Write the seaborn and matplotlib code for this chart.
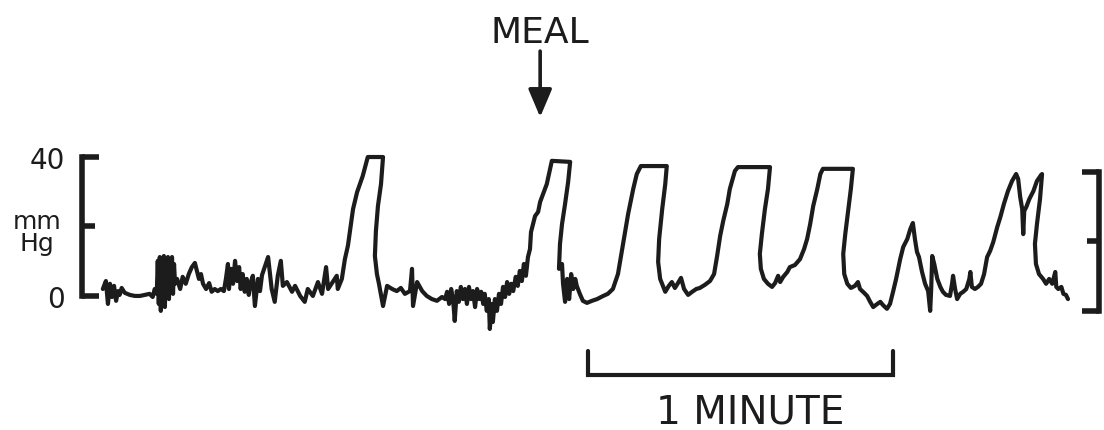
import matplotlib
matplotlib.use("Agg")
import matplotlib.pyplot as plt
import seaborn as sns

# ---------------- data ----------------
# time in seconds from start of record, pressure in mmHg
TIME_S = [
    0.0, 0.6, 1.0, 1.4, 1.8, 2.2, 2.6, 3.0, 3.3, 3.7, 4.3, 5.3, 6.3, 7.3, 8.3, 9.2, 9.8, 10.2,
    10.6, 10.8, 11.0, 11.2, 11.4, 11.6, 11.8, 12.0, 12.2, 12.4, 12.6, 12.8, 13.0, 13.2, 13.4, 13.6, 13.8, 14.0, 14.2,
    14.6, 15.2, 15.7, 16.3, 16.9, 17.5, 18.1, 18.5, 18.9, 19.3, 19.7, 20.3, 20.9, 21.4, 22.0, 22.6, 23.2, 23.8,
    24.2, 24.6, 24.8, 25.2, 25.6, 26.0, 26.4, 26.8, 27.1, 27.5, 27.9, 28.3, 28.7,
    29.1, 29.5, 29.9, 30.5, 30.9, 31.3, 31.9, 32.5, 33.2, 33.8, 34.4, 35.0, 35.4, 36.2, 37.2, 37.8, 38.8,
    39.7, 40.3, 41.3, 42.3, 43.1, 43.9, 44.3, 45.2, 46.0, 46.2, 47.0, 47.6,
    48.2, 49.2, 50.0, 51.1, 52.1, 55.1,
    54.7, 54.1, 53.7, 53.5, 53.9, 54.3, 55.1, 55.9, 56.9, 57.8, 58.6, 59.4, 60.4, 60.8, 61.0, 61.8,
    62.8, 63.7, 64.7, 65.7, 66.7, 67.3,
    67.7, 68.1, 68.5, 68.9, 69.2, 69.6, 70.0, 70.4, 70.8, 71.2, 71.6, 72.0, 72.4, 72.8, 73.2, 73.6,
    74.0, 74.4, 74.8, 75.1, 75.5, 75.9, 76.1, 76.5, 76.7, 77.1, 77.5, 77.9, 78.3, 78.7, 79.1, 79.5,
    79.9, 80.3, 80.7, 81.2, 81.6, 82.0, 82.4, 82.8, 83.2, 83.6, 84.0, 84.2, 85.0, 85.6, 86.0, 86.8,
    87.3, 88.3, 91.9,
    91.5, 90.9, 90.3, 89.9, 89.7, 90.3, 90.5, 90.9, 91.3, 91.7, 92.1, 92.5, 92.9, 93.2, 93.8, 94.4,
    95.2, 96.2, 97.2, 98.4, 99.3, 100.3, 101.3, 102.3, 103.3, 104.3, 105.0, 105.8, 110.9,
    110.6, 110.0, 109.4, 109.2, 109.6, 110.6, 111.3, 111.9, 112.5, 113.1, 113.7, 114.3, 115.1, 115.9,
    116.7, 117.4, 118.4, 119.4, 120.2, 120.8, 121.4, 122.0, 122.8, 123.3, 124.3, 124.9, 131.2,
    130.8, 130.2, 129.6, 129.2, 129.4, 130.0, 130.8, 131.6, 132.2, 132.8, 133.2, 133.8, 134.6, 135.1,
    136.1, 137.1, 137.9, 138.5, 139.1, 139.7, 140.5, 141.1, 141.6, 147.5,
    147.1, 146.6, 146.0, 145.6, 145.8, 146.4, 147.1, 147.9, 148.5, 148.9, 149.7, 150.3, 150.9, 151.5,
    152.3, 152.9, 153.4, 154.2, 154.8, 155.4, 156.0, 156.8, 157.4, 158.2, 158.8, 159.3, 159.7, 160.1,
    160.5, 161.1, 161.7, 162.3, 162.7, 162.9, 163.1, 163.5, 164.1, 164.7, 165.2, 165.8, 166.6, 167.0,
    167.2, 167.6, 168.0, 168.6, 169.2, 169.8, 170.4, 170.6, 170.9, 171.5, 172.1, 172.7, 173.3, 173.9,
    174.5, 175.1, 175.9, 176.5, 177.2, 178.0, 178.8, 179.6, 180.0, 180.4, 180.8, 181.0, 181.2, 181.6,
    182.2, 183.0, 183.7, 184.5, 184.7, 184.3, 183.7, 183.3, 183.5, 184.1, 184.9, 185.5, 186.1, 186.7,
    187.3, 187.5, 187.9, 188.5, 188.9, 189.4, 189.8,
]
PRESSURE_MMHG = [
    2.0, 4.3, -2.3, 3.5, -0.3, 2.9, -1.4, 1.4, 0.3, 2.3, 0.9, 0.3, 0.0, 0.0, 0.3, 0.6, -0.3, 2.0,
    0.6, 10.1, -2.3, 11.2, -4.3, 9.2, -0.9, 11.5, -3.2, 10.1, 0.3, 11.2, -0.9, 10.1, 2.0, 11.2, 0.6, 9.2, 3.5,
    4.9, 2.0, 5.5, 3.5, 6.3, 8.3, 9.5, 7.2, 4.9, 6.3, 3.5, 2.0, 3.7, 1.2, 2.0, 1.4, 2.0, 1.4,
    4.9, 9.2, 2.0, 7.8, 3.5, 10.1, 4.3, 8.3, 2.0, 6.3, 1.2, 4.9, 0.3,
    4.0, 5.8, -2.9, 4.9, 1.4, 6.0, 8.6, 11.2, 2.0, -1.7, 5.8, 10.1, 2.9, 4.0, 1.2, 2.9, 0.0,
    -1.7, 2.0, 0.0, 4.0, 0.6, 8.3, 2.0, 4.0, 5.8, 2.0, 4.9, 10.6,
    14.5, 25.0, 29.9, 34.5, 40.0, 40.0,
    32.2, 25.9, 18.7, 11.5, 6.3, 3.5, -2.9, 2.9, 2.0, 1.4, 2.3, 0.6, 1.4, 7.8, -2.9, 4.0,
    1.4, 0.0, -0.9, -1.4, -0.3, -0.9,
    1.2, -2.3, 2.0, -1.4, -7.2, 1.4, -1.7, 2.6, -0.9, 2.0, -2.3, 2.6, -0.9, 1.4, -3.2, 2.0,
    -0.9, 1.2, -2.3, 0.6, -4.3, -0.9, -9.5, -2.3, -7.5, -0.9, -4.3, 0.6, -2.3, 2.6, -0.3, 4.0,
    0.6, 3.5, 1.4, 5.5, 2.9, 7.2, 4.3, 9.2, 5.8, 11.2, 13.5, 18.4, 23.0, 24.2, 27.1, 30.2,
    32.2, 38.9, 38.6,
    32.8, 26.5, 20.7, 15.0, 7.8, 9.2, 3.5, -1.7, 4.9, -0.9, 6.3, 2.0, 4.9, 2.9, 0.6, -1.4,
    -2.0, -1.4, -0.9, 0.0, 0.6, 2.0, 6.3, 15.0, 23.6, 30.8, 35.1, 37.4, 37.4,
    32.2, 25.0, 16.4, 9.8, 4.9, 1.2, 2.9, 4.0, 2.3, 3.7, 5.2, 2.0, 0.3, 1.2,
    2.0, 2.3, 3.2, 4.3, 6.3, 11.5, 17.3, 21.6, 26.5, 30.8, 36.0, 37.1, 37.1,
    30.8, 25.0, 17.8, 12.1, 7.8, 4.9, 3.5, 2.6, 3.7, 5.8, 4.0, 5.5, 6.9, 8.3,
    8.9, 10.6, 13.5, 16.4, 20.7, 25.9, 30.8, 35.1, 36.6, 36.6,
    30.8, 25.0, 17.8, 12.1, 6.3, 3.5, 2.3, 2.9, 4.0, 2.0, 0.9, 0.0, -1.7, -3.2,
    -2.3, -1.7, -2.6, -3.7, -2.3, 1.2, 4.9, 10.6, 14.1, 16.4, 19.3, 21.0, 16.4, 12.7,
    11.2, 6.9, 3.5, 1.4, -4.3, 2.0, 11.5, 9.2, 4.9, 2.6, 1.2, 0.3, 0.0, 3.5,
    5.8, 2.0, -0.9, 0.6, 1.2, 2.0, 4.9, 6.9, 2.6, 2.0, 2.6, 3.5, 6.3, 11.2,
    13.0, 15.5, 19.9, 22.7, 26.5, 30.2, 33.1, 35.1, 33.7, 28.5, 25.0, 17.8, 24.5, 25.6,
    27.9, 30.2, 33.1, 34.8, 35.1, 27.9, 20.7, 15.0, 9.2, 6.3, 4.9, 3.5, 4.9, 3.5,
    6.9, 2.6, 2.0, 2.6, 0.6, 0.3, -0.9,
]

Y_TICKS = [0, 40]
Y_TICK_LABELS = ["0", "40"]
Y_MINOR_TICK = [20]
MEAL_TIME_S = 86.0
SCALE_BAR_START_S = 95.4
SCALE_BAR_LENGTH_S = 60.0
RIGHT_SCALE_OFFSET = 4.3   # right-hand calibration bracket sits slightly lower

INK = "#1c1c1c"

# ---------------- figure ----------------
sns.set_style("white")
plt.rcParams["font.family"] = ["DejaVu Sans"]

fig = plt.figure(figsize=(11.04, 4.31), dpi=100)
ax = fig.add_axes([82 / 1104, 0.0, 1017 / 1104, 1.0])

sns.lineplot(x=TIME_S, y=PRESSURE_MMHG, sort=False, estimator=None, ax=ax,
             color=INK, linewidth=3.0, solid_joinstyle="round")

ax.set_xlim(-4.1, 195.9)
ax.set_ylim(-38.6, 85.5)

for s in ("top", "bottom", "right"):
    ax.spines[s].set_visible(False)
ax.spines["left"].set_bounds(0, 40)
ax.spines["left"].set_linewidth(4)
ax.spines["left"].set_color(INK)
ax.set_xticks([])
ax.set_yticks(Y_TICKS)
ax.set_yticklabels(Y_TICK_LABELS)
ax.set_yticks(Y_MINOR_TICK, minor=True)
ax.tick_params(axis="y", which="major", direction="in", length=12, width=4,
               pad=12, labelsize=20, colors=INK, left=True)
ax.tick_params(axis="y", which="minor", direction="in", length=9, width=4,
               colors=INK, left=True)
ax.set_xlabel("")
ax.set_ylabel("")

ax.text(-0.044, 18.4, "mm\nHg", transform=ax.get_yaxis_transform(),
        ha="center", va="center", fontsize=18, linespacing=0.9, color=INK)

# right-hand calibration bracket
lo, hi = ax.get_ylim()
ax2 = ax.twinx()
ax2.set_ylim(lo + RIGHT_SCALE_OFFSET, hi + RIGHT_SCALE_OFFSET)
for s in ("top", "bottom", "left"):
    ax2.spines[s].set_visible(False)
ax2.spines["right"].set_bounds(0, 40)
ax2.spines["right"].set_linewidth(4)
ax2.spines["right"].set_color(INK)
ax2.set_yticks(Y_TICKS)
ax2.set_yticks(Y_MINOR_TICK, minor=True)
ax2.tick_params(axis="y", which="major", direction="in", length=12, width=4,
                labelright=False, colors=INK, right=True)
ax2.tick_params(axis="y", which="minor", direction="in", length=9, width=4,
                colors=INK, right=True)
ax2.grid(False)

# meal marker
ax.text(MEAL_TIME_S, 73.1, "MEAL", ha="center", va="baseline", fontsize=26, color=INK)
ax.annotate("", xy=(MEAL_TIME_S, 51.5), xytext=(MEAL_TIME_S, 70.5),
            arrowprops=dict(arrowstyle="-|>,head_length=0.85,head_width=0.36",
                            lw=2.6, color=INK, mutation_scale=20,
                            shrinkA=0, shrinkB=0),
            annotation_clip=False)

# 1 minute time-scale bar
bx0 = SCALE_BAR_START_S
bx1 = SCALE_BAR_START_S + SCALE_BAR_LENGTH_S
ax.plot([bx0, bx0, bx1, bx1], [-15.8, -22.7, -22.7, -15.8], color=INK, lw=3,
        solid_joinstyle="miter", clip_on=False)
ax.text(127.3, -36.3, "1 MINUTE", ha="center", va="baseline", fontsize=28, color=INK)

ax.grid(False)
fig.savefig("out.png", dpi=100, facecolor="white")
